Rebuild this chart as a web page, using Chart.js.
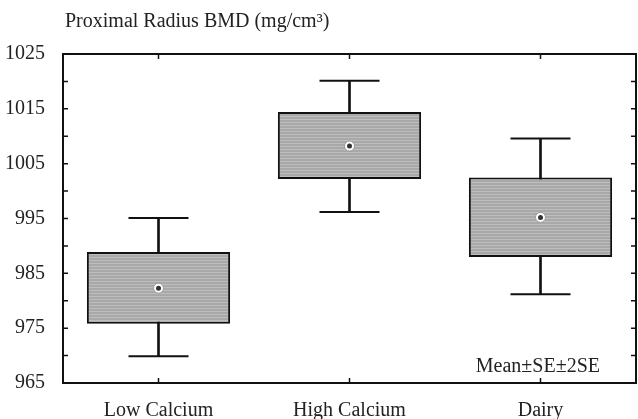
<!DOCTYPE html>
<html>
<head>
<meta charset="utf-8">
<script src="https://cdn.jsdelivr.net/npm/chart.js@4.4.0/dist/chart.umd.min.js"></script>
<style>
body { margin: 0; background: #fff; }
</style>
</head>
<body>
<canvas id="myChart" width="638" height="419"></canvas>
<script>
// values
const categories = ['Low Calcium', 'High Calcium', 'Dairy']
const means = [982.3, 1008.2, 995.2]
const seLow = [975.8, 1002.2, 988.0]
const seHigh = [988.9, 1014.4, 1002.5]
const se2Low = [969.9, 996.2, 981.2]
const se2High = [995.1, 1020.1, 1009.6]
const yLabels = [965, 975, 985, 995, 1005, 1015, 1025]

const serif = 'Liberation Serif'

// striped gray fill like the scan
const pat = document.createElement('canvas')
pat.width = 4
pat.height = 3
const pc = pat.getContext('2d')
pc.fillStyle = '#a8a8a8'
pc.fillRect(0, 0, 4, 3)
pc.fillStyle = '#bebebe'
pc.fillRect(0, 2, 4, 1)

const ctx = document.getElementById('myChart')
const stripes = ctx.getContext('2d').createPattern(pat, 'repeat')

const frame = {
    id: 'frame',
    afterDraw(chart) {
        const c = chart.ctx, a = chart.chartArea
        const x = chart.scales.x, y = chart.scales.y
        c.save()
        c.strokeStyle = '#111'
        c.lineWidth = 2
        c.strokeRect(a.left, a.top, a.right - a.left, a.bottom - a.top)
        c.lineWidth = 1.5
        c.beginPath()
        y.ticks.forEach(t => {
            const py = y.getPixelForValue(t.value)
            c.moveTo(a.left, py); c.lineTo(a.left + 5, py)
            c.moveTo(a.right, py); c.lineTo(a.right - 5, py)
        })
        x.ticks.forEach((t, i) => {
            const px = x.getPixelForValue(i)
            c.moveTo(px, a.top); c.lineTo(px, a.top + 5)
            c.moveTo(px, a.bottom); c.lineTo(px, a.bottom - 5)
        })
        c.stroke()
        c.fillStyle = '#222'
        c.font = '20px "' + serif + '"'
        c.textBaseline = 'middle'
        c.textAlign = 'left'
        c.fillText('Proximal Radius BMD (mg/cm³)', 65, 22)
        c.textAlign = 'right'
        c.fillText('Mean±SE±2SE', 600, 367)
        c.restore()
    }
}

const capStyle = {
    type: 'line',
    showLine: false,
    pointStyle: 'line',
    pointRadius: 30,
    pointBorderWidth: 2,
    pointBorderColor: '#111',
    order: 3
}

const myChart = new Chart(ctx, {
    type: 'bar',
    data: {
        labels: categories,
        datasets: [
            {
                // whisker stems
                data: se2Low.map((v, i) => [v, se2High[i]]),
                backgroundColor: '#111',
                barThickness: 2,
                grouped: false,
                order: 5
            },
            {
                // SE boxes
                data: seLow.map((v, i) => [v, seHigh[i]]),
                backgroundColor: stripes,
                borderColor: '#111',
                borderWidth: 2,
                borderSkipped: false,
                barPercentage: 0.75,
                categoryPercentage: 1,
                grouped: false,
                order: 4
            },
            Object.assign({ data: se2High }, capStyle),
            Object.assign({ data: se2Low }, capStyle),
            {
                type: 'line',
                data: means,
                showLine: false,
                pointRadius: 5,
                pointBackgroundColor: '#fff',
                pointBorderColor: '#999',
                pointBorderWidth: 1,
                order: 2
            },
            {
                type: 'line',
                data: means,
                showLine: false,
                pointRadius: 2.5,
                pointBackgroundColor: '#333',
                pointBorderWidth: 0,
                order: 1
            }
        ]
    },
    options: {
        responsive: false,
        animation: false,
        devicePixelRatio: 1,
        layout: { autoPadding: false, padding: { top: 54, right: 2, left: 0, bottom: 0 } },
        plugins: {
            legend: { display: false },
            tooltip: { enabled: false }
        },
        scales: {
            x: {
                grid: { display: false },
                border: { display: false },
                ticks: { color: '#222', font: { family: serif, size: 20 }, padding: 8 },
                afterFit: s => { s.height = 36 }
            },
            y: {
                min: 965,
                max: 1025,
                grid: { display: false },
                border: { display: false },
                ticks: {
                    stepSize: 5,
                    autoSkip: false,
                    color: '#222',
                    font: { family: serif, size: 20 },
                    padding: 10,
                    callback: v => yLabels.includes(v) ? v : ''
                },
                afterFit: s => { s.width = 63 }
            }
        }
    },
    plugins: [frame]
})
</script>
</body>
</html>
